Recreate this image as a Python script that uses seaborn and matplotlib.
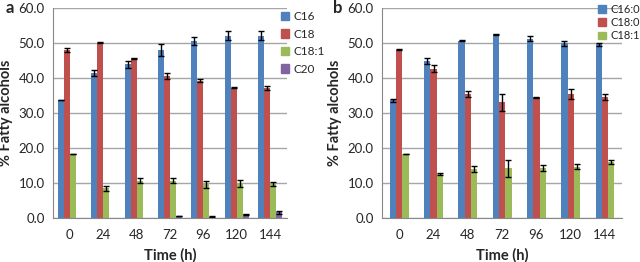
import numpy as np
import pandas as pd
import seaborn as sns
import matplotlib.pyplot as plt

times = ['0', '24', '48', '72', '96', '120', '144']

# panel a
a_names = ['C16', 'C18', 'C18:1', 'C20']
a_c16 = [33.7, 41.4, 43.9, 48.0, 50.6, 52.1, 52.1]
a_c16_err = [0.1, 0.8, 0.9, 1.7, 1.2, 1.3, 1.3]
a_c18 = [48.1, 50.1, 45.6, 40.6, 39.3, 37.3, 37.1]
a_c18_err = [0.6, 0.1, 0.2, 0.8, 0.3, 0.1, 0.5]
a_c181 = [18.3, 8.5, 10.6, 10.6, 9.6, 9.9, 9.7]
a_c181_err = [0.1, 0.7, 0.7, 0.7, 1.0, 0.9, 0.5]
a_c20 = [0.0, 0.0, 0.0, 0.6, 0.4, 1.0, 1.6]
a_c20_err = [0.0, 0.0, 0.0, 0.1, 0.1, 0.1, 0.4]

# panel b
b_names = ['C16:0', 'C18:0', 'C18:1']
b_c16 = [33.6, 44.8, 50.7, 52.5, 51.3, 49.9, 49.6]
b_c16_err = [0.4, 0.9, 0.1, 0.1, 0.6, 0.6, 0.4]
b_c18 = [48.1, 42.7, 35.4, 33.1, 34.5, 35.4, 34.5]
b_c18_err = [0.1, 0.9, 0.9, 2.4, 0.2, 1.4, 0.9]
b_c181 = [18.3, 12.6, 14.0, 14.2, 14.3, 14.6, 16.0]
b_c181_err = [0.1, 0.2, 0.9, 2.4, 0.8, 0.7, 0.5]

colors = ['#4F81BD', '#C0504D', '#9BBB59', '#8064A2']

sns.set_style('white')
plt.rcParams['font.family'] = ['Lato', 'DejaVu Sans']


def long_df(names, vals):
    rows = []
    for n, v in zip(names, vals):
        for t, y in zip(times, v):
            rows.append({'time': t, 'series': n, 'value': y})
    return pd.DataFrame(rows)


def panel(ax, names, vals, errs, width, letter, leg_pos, leg_gap, leg_fs):
    df = long_df(names, vals)
    sns.barplot(data=df, x='time', y='value', hue='series', order=times,
                hue_order=names, palette=colors[:len(names)], width=width,
                errorbar=None, saturation=1, ax=ax, legend=False)
    for cont, v, e in zip(ax.containers, vals, errs):
        for p, y, err in zip(cont.patches, v, e):
            p.set_edgecolor('none')
            if y <= 0:
                continue
            ax.errorbar(p.get_x() + p.get_width() / 2, y, yerr=err, fmt='none',
                        ecolor='black', elinewidth=1, capsize=2.5, capthick=1)
    ax.set_ylim(0, 60)
    ax.set_xlim(-0.5, 6.5)
    ax.set_yticks(np.arange(0, 61, 10))
    ax.set_yticklabels(['%.1f' % v for v in np.arange(0, 61, 10)], fontsize=9.5)
    ax.set_xticks(np.arange(-0.5, 7, 1), minor=True)
    ax.tick_params(axis='x', which='major', length=0, labelsize=9.5, pad=8)
    ax.tick_params(axis='x', which='minor', length=4, color='#888888', direction='out')
    ax.tick_params(axis='y', length=3, color='#888888', direction='out', pad=3)
    ax.grid(axis='y', color='#A6A6A6', linewidth=1)
    ax.set_axisbelow(True)
    for s in ['top', 'right']:
        ax.spines[s].set_visible(False)
    for s in ['left', 'bottom']:
        ax.spines[s].set_color('#888888')
    ax.set_xlabel('Time (h)', fontsize=10.5, fontweight='bold', labelpad=5)
    ax.set_ylabel('% Fatty alcohols', fontsize=10.5, fontweight='bold', labelpad=4)
    ax.text(-0.205, 1.0, letter, transform=ax.transAxes, fontsize=12,
            fontweight='bold', va='center')
    handles = [plt.Rectangle((0, 0), 1, 1, color=c) for c in colors[:len(names)]]
    ax.legend(handles, names, loc='upper left', bbox_to_anchor=leg_pos,
              frameon=False, fontsize=leg_fs, handlelength=0.7, handleheight=0.7,
              handletextpad=0.4, labelspacing=leg_gap, borderaxespad=0,
              borderpad=0)


fig = plt.figure(figsize=(6.4, 2.62), dpi=100)
ax1 = fig.add_axes([0.083, 0.168, 0.365, 0.801])
ax2 = fig.add_axes([0.597, 0.168, 0.375, 0.801])

panel(ax1, a_names, [a_c16, a_c18, a_c181, a_c20],
      [a_c16_err, a_c18_err, a_c181_err, a_c20_err], 0.72, 'a', (0.975, 0.985), 0.55, 8.5)
panel(ax2, b_names, [b_c16, b_c18, b_c181],
      [b_c16_err, b_c18_err, b_c181_err], 0.55, 'b', (0.9, 1.02), 0.2, 8)

fig.savefig('out.png', dpi=100)
